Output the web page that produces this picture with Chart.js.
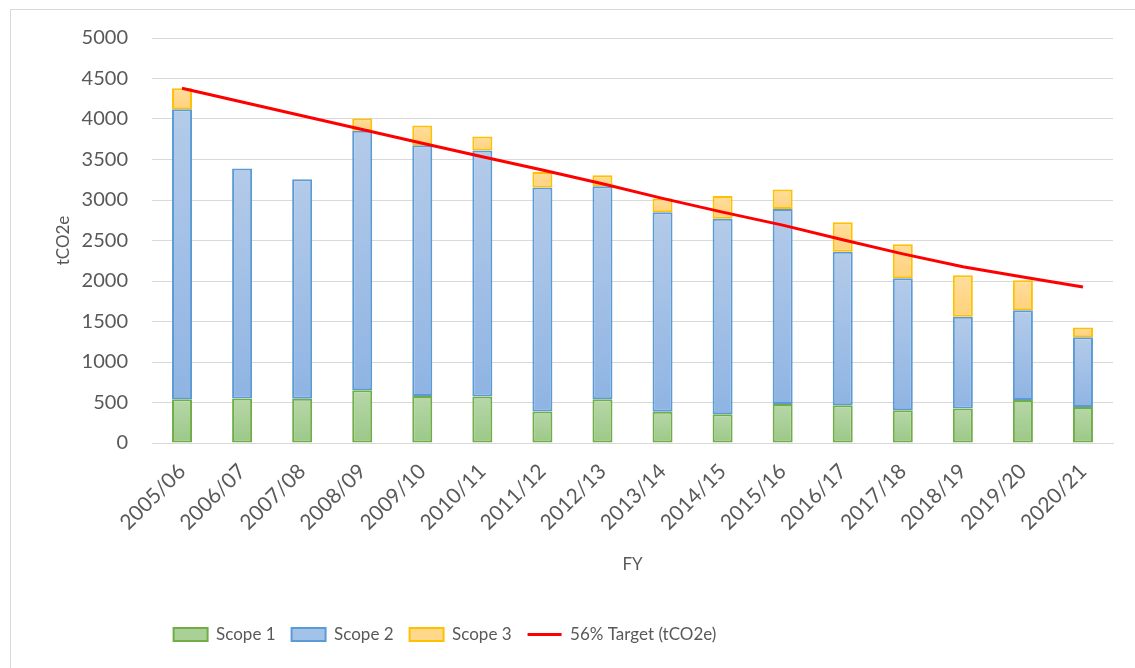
<!DOCTYPE html>
<html>
<head>
<meta charset="utf-8">
<script src="https://cdn.jsdelivr.net/npm/chart.js@4.4.1/dist/chart.umd.min.js"></script>
<style>
  html, body { margin: 0; padding: 0; background: #fff; overflow: hidden; }
  #frame { position: absolute; left: 10px; top: 9px; width: 1200px; height: 720px; border: 1px solid #d9d9d9; }
  #wrap { position: absolute; left: 0; top: 0; width: 1135px; height: 668px; }
</style>
</head>
<body>
<div id="frame"></div>
<div id="wrap"><canvas id="emissions" width="1135" height="668"></canvas></div>
<script>
const years = ['2005/06', '2006/07', '2007/08', '2008/09', '2009/10', '2010/11', '2011/12', '2012/13',
  '2013/14', '2014/15', '2015/16', '2016/17', '2017/18', '2018/19', '2019/20', '2020/21'];
const scope1 = [540, 550, 545, 650, 580, 575, 390, 540, 385, 355, 480, 465, 405, 425, 530, 445];
const scope2 = [3580, 2840, 2710, 3205, 3095, 3035, 2765, 2630, 2465, 2415, 2410, 1895, 1630, 1135, 1110, 860];
const scope3 = [260, null, null, 150, 245, 175, 190, 135, 170, 280, 240, 365, 420, 510, 370, 120];
const target = [4380, 4210, 4040, 3870, 3700, 3535, 3370, 3200, 3020, 2850, 2690, 2510, 2335, 2175, 2050, 1925];
const yTicks = [0, 500, 1000, 1500, 2000, 2500, 3000, 3500, 4000, 4500, 5000];

(function () {
  const canvas = document.getElementById('emissions');
  const ctx = canvas.getContext('2d');

  Chart.defaults.font.family = 'Lato, "Open Sans", sans-serif';
  Chart.defaults.color = '#595959';

  // each stacked segment gets its own top-to-bottom gradient, like the Excel style
  function segGrad(top, bottom, below, own) {
    return (c) => {
      const chart = c.chart;
      if (!chart.chartArea || c.type !== 'data' || !chart.scales.y) return bottom;
      const i = c.dataIndex;
      const base = below.reduce((s, a) => s + (a[i] || 0), 0);
      const y0 = chart.scales.y.getPixelForValue(base);
      const y1 = chart.scales.y.getPixelForValue(base + (own[i] || 0));
      if (!isFinite(y0) || !isFinite(y1) || y0 === y1) return bottom;
      const g = chart.ctx.createLinearGradient(0, y1, 0, y0);
      g.addColorStop(0, top);
      g.addColorStop(1, bottom);
      return g;
    };
  }

  const swatch = ['#a9d097', '#a3c2e8', '#ffd88c', '#ff0000'];

  // push the legend left so it sits where the original one is
  const legendShift = {
    id: 'legendShift',
    afterLayout(chart) {
      const lg = chart.legend;
      if (!lg) return;
      const dx = 445 - (lg.left + lg.right) / 2;
      lg.left += dx;
      lg.right += dx;
    }
  };

  const barCommon = {
    type: 'bar',
    stack: 'scopes',
    order: 1,
    borderWidth: 2,
    borderSkipped: false,
    barPercentage: 0.333,
    categoryPercentage: 1,
    pointStyle: 'rect'
  };

  new Chart(ctx, {
    data: {
      labels: years,
      datasets: [
        Object.assign({}, barCommon, {
          label: 'Scope 1',
          data: scope1,
          backgroundColor: segGrad('#b7d7a8', '#9bc887', [], scope1),
          borderColor: '#70ad47'
        }),
        Object.assign({}, barCommon, {
          label: 'Scope 2',
          data: scope2,
          backgroundColor: segGrad('#b4cbe9', '#8fb4e3', [scope1], scope2),
          borderColor: '#5b9bd5'
        }),
        Object.assign({}, barCommon, {
          label: 'Scope 3',
          data: scope3,
          backgroundColor: segGrad('#ffdd9c', '#ffd27c', [scope1, scope2], scope3),
          borderColor: '#ffc000'
        }),
        {
          type: 'line',
          label: '56% Target (tCO2e)',
          data: target,
          stack: 'target',
          order: 0,
          borderColor: '#ff0000',
          backgroundColor: '#ff0000',
          borderWidth: 3,
          pointRadius: 0,
          pointStyle: 'line',
          tension: 0,
          fill: false
        }
      ]
    },
    options: {
      responsive: false,
      animation: false,
      layout: { padding: { top: 38, right: 22, left: 0, bottom: 15 } },
      plugins: {
        tooltip: { enabled: false },
        legend: {
          position: 'bottom',
          labels: {
            usePointStyle: true,
            pointStyleWidth: 34,
            boxHeight: 13,
            padding: 16,
            color: '#595959',
            font: { size: 17 },
            sort: (a, b) => a.datasetIndex - b.datasetIndex,
            generateLabels: (chart) => {
              const items = Chart.defaults.plugins.legend.labels.generateLabels(chart);
              items.forEach(it => {
                it.fillStyle = swatch[it.datasetIndex];
              });
              return items;
            }
          }
        }
      },
      scales: {
        x: {
          stacked: true,
          offset: true,
          grid: { display: false },
          border: { display: true, color: '#d9d9d9', width: 1 },
          ticks: {
            autoSkip: false,
            minRotation: 45,
            maxRotation: 45,
            padding: 8,
            color: '#595959',
            font: { size: 21 }
          },
          title: {
            display: true,
            text: 'FY',
            color: '#595959',
            font: { size: 17 },
            padding: { top: 0, bottom: 35 }
          },
          afterFit: (s) => { s.height = 167; }
        },
        y: {
          stacked: true,
          min: 0,
          max: 5000,
          afterBuildTicks: (s) => { s.ticks = yTicks.map(v => ({ value: v })); },
          grid: { color: '#d9d9d9', lineWidth: 1, drawTicks: false },
          border: { display: false },
          ticks: {
            padding: 24,
            color: '#595959',
            font: { size: 20 },
            callback: (v) => String(v)
          },
          title: {
            display: true,
            text: 'tCO2e',
            color: '#595959',
            font: { size: 17 },
            padding: { top: 53, bottom: 0 }
          },
          afterFit: (s) => { s.width = 152; }
        }
      }
    },
    plugins: [legendShift]
  });
})();
</script>
</body>
</html>
